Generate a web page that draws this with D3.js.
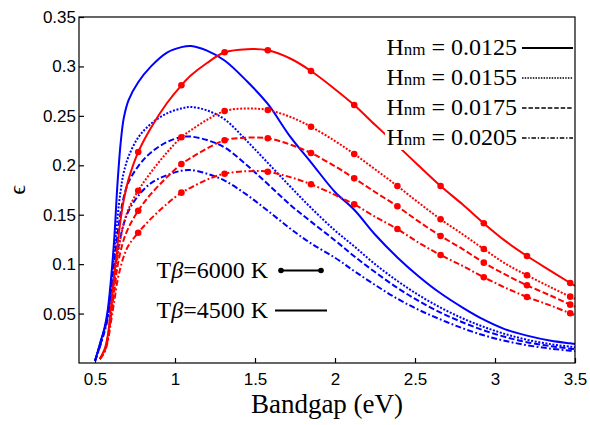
<!DOCTYPE html>
<html>
<head>
<meta charset="utf-8">
<script src="https://cdn.jsdelivr.net/npm/d3@7"></script>
<style>
	body { margin: 0; background: #fff; }
	svg text { fill: #000; }
	.tick_label { font-family: "Liberation Sans", Arial, sans-serif; font-size: 17px; }
	.serif { font-family: "Liberation Serif", "Times New Roman", serif; }
</style>
</head>
<body>
<div id="chart"></div>
<script>
// bandgap grid (eV), shared by all curves
const bandgap = [0.5, 0.53, 0.56, 0.58, 0.6, 0.62, 0.64, 0.66, 0.68, 0.71, 0.77, 0.85, 0.95, 1.04, 1.1, 1.2, 1.31, 1.45, 1.58, 1.72, 1.85, 2.0, 2.12, 2.25, 2.39, 2.52, 2.66, 2.8, 2.93, 3.06, 3.2, 3.35, 3.47, 3.5];

// T_beta = 4500 K (blue)
const eff_4500_h0125 = [0.002, 0.019, 0.036, 0.054, 0.085, 0.125, 0.18, 0.222, 0.248, 0.266, 0.284, 0.300, 0.314, 0.3195, 0.3207, 0.316, 0.306, 0.285, 0.262, 0.229, 0.203, 0.173, 0.155, 0.130, 0.1068, 0.0881, 0.0705, 0.0558, 0.0438, 0.0343, 0.0277, 0.0225, 0.0199, 0.0192];
const eff_4500_h0155 = [0.002, 0.018, 0.035, 0.05, 0.078, 0.11, 0.146, 0.174, 0.193, 0.209, 0.228, 0.242, 0.2525, 0.2575, 0.259, 0.2555, 0.2465, 0.2245, 0.2025, 0.1785, 0.157, 0.134, 0.118, 0.1, 0.083, 0.069, 0.056, 0.045, 0.0365, 0.0295, 0.0235, 0.019, 0.0165, 0.016];
const eff_4500_h0175 = [0.002, 0.017, 0.034, 0.048, 0.073, 0.1, 0.129, 0.152, 0.168, 0.183, 0.199, 0.213, 0.2235, 0.2285, 0.229, 0.2255, 0.218, 0.200, 0.181, 0.160, 0.143, 0.124, 0.108, 0.092, 0.076, 0.063, 0.051, 0.041, 0.033, 0.0265, 0.021, 0.017, 0.0145, 0.014];
const eff_4500_h0205 = [0.002, 0.016, 0.032, 0.045, 0.067, 0.089, 0.111, 0.128, 0.141, 0.154, 0.169, 0.182, 0.190, 0.1945, 0.1952, 0.1915, 0.1845, 0.170, 0.154, 0.136, 0.121, 0.1065, 0.093, 0.079, 0.065, 0.054, 0.044, 0.035, 0.028, 0.0225, 0.018, 0.0145, 0.0125, 0.012];

// T_beta = 6000 K (red, with markers)
const eff_6000_h0125 = [null, 0.004, 0.014, 0.028, 0.056, 0.088, 0.118, 0.145, 0.165, 0.186, 0.2134, 0.238, 0.263, 0.2809, 0.291, 0.3035, 0.3143, 0.3175, 0.3163, 0.308, 0.2954, 0.277, 0.261, 0.241, 0.220, 0.200, 0.179, 0.160, 0.1413, 0.124, 0.1082, 0.093, 0.0809, 0.078];
const eff_6000_h0155 = [null, 0.004, 0.013, 0.026, 0.052, 0.08, 0.106, 0.126, 0.141, 0.156, 0.1743, 0.193, 0.213, 0.2283, 0.2355, 0.246, 0.2549, 0.2575, 0.2559, 0.249, 0.239, 0.2245, 0.2114, 0.196, 0.179, 0.1625, 0.1454, 0.130, 0.1153, 0.101, 0.0887, 0.0765, 0.0671, 0.065];
const eff_6000_h0175 = [null, 0.004, 0.012, 0.024, 0.048, 0.072, 0.097, 0.113, 0.125, 0.137, 0.154, 0.171, 0.188, 0.2013, 0.2075, 0.217, 0.2253, 0.228, 0.2273, 0.221, 0.2124, 0.199, 0.1868, 0.173, 0.1585, 0.1435, 0.1285, 0.115, 0.1015, 0.0898, 0.0786, 0.068, 0.059, 0.057];
const eff_6000_h0205 = [null, 0.004, 0.011, 0.022, 0.042, 0.062, 0.083, 0.097, 0.108, 0.119, 0.1318, 0.146, 0.161, 0.1723, 0.1775, 0.1855, 0.1915, 0.194, 0.1935, 0.188, 0.1808, 0.170, 0.1605, 0.148, 0.1355, 0.122, 0.1092, 0.098, 0.0867, 0.0765, 0.0668, 0.058, 0.0503, 0.0485];

// bandgaps where the 6000 K curves carry a dot
const marker_gaps = [0.77, 1.04, 1.31, 1.58, 1.85, 2.12, 2.39, 2.66, 2.93, 3.2, 3.47];

const h_labels = ['0.0125', '0.0155', '0.0175', '0.0205'];
const x_ticks = [0.5, 1, 1.5, 2, 2.5, 3, 3.5];
const y_ticks = [0.05, 0.1, 0.15, 0.2, 0.25, 0.3, 0.35];

const dash_styles = [null, '2,1.6', '6,2.6', '6,2.4,1.8,2.4'];

let width = 590,
	height = 425,
	margin = {top: 17, right: 15, bottom: 62, left: 79};

const svg = d3.select('#chart').append('svg')
	.attr('width', width)
	.attr('height', height);

const x = d3.scaleLinear().domain([0.4, 3.5]).range([margin.left, width - margin.right]);
const y = d3.scaleLinear().domain([0, 0.35]).range([height - margin.bottom, margin.top]);

// curves
const series = [
	{vals: eff_4500_h0125, colour: '#0000ff', h: 0},
	{vals: eff_4500_h0155, colour: '#0000ff', h: 1},
	{vals: eff_4500_h0175, colour: '#0000ff', h: 2},
	{vals: eff_4500_h0205, colour: '#0000ff', h: 3},
	{vals: eff_6000_h0125, colour: '#ff0000', h: 0, dots: true},
	{vals: eff_6000_h0155, colour: '#ff0000', h: 1, dots: true},
	{vals: eff_6000_h0175, colour: '#ff0000', h: 2, dots: true},
	{vals: eff_6000_h0205, colour: '#ff0000', h: 3, dots: true}
];

const line = d3.line()
	.defined(d => d[1] !== null)
	.x(d => x(d[0]))
	.y(d => y(d[1]))
	.curve(d3.curveCatmullRom.alpha(0.5));

const plot = svg.append('g').attr('class', 'curves');

series.forEach(s => {
	let pts = bandgap.map((g, i) => [g, s.vals[i]]);
	plot.append('path')
		.attr('d', line(pts))
		.attr('fill', 'none')
		.attr('stroke', s.colour)
		.attr('stroke-width', 2)
		.attr('stroke-dasharray', dash_styles[s.h]);
	if (s.dots) {
		plot.selectAll(null)
			.data(pts.filter(p => marker_gaps.includes(p[0])))
			.enter().append('circle')
			.attr('cx', d => x(d[0]))
			.attr('cy', d => y(d[1]))
			.attr('r', 3.3)
			.attr('fill', s.colour);
	}
});

// frame + axes (ticks inside)
svg.append('rect')
	.attr('x', margin.left)
	.attr('y', margin.top)
	.attr('width', width - margin.left - margin.right)
	.attr('height', height - margin.top - margin.bottom)
	.attr('fill', 'none')
	.attr('stroke', '#000')
	.attr('stroke-width', 1.2);

const xAxis = svg.append('g')
	.attr('transform', 'translate(0,' + (height - margin.bottom) + ')')
	.call(d3.axisBottom(x).tickValues(x_ticks).tickSize(-5).tickPadding(10).tickFormat(d3.format('')));
const yAxis = svg.append('g')
	.attr('transform', 'translate(' + margin.left + ',0)')
	.call(d3.axisLeft(y).tickValues(y_ticks).tickSize(-5).tickPadding(3).tickFormat(d => d3.format('')(+d.toFixed(2))));

[xAxis, yAxis].forEach(a => {
	a.select('.domain').remove();
	a.selectAll('line').attr('stroke', '#000').attr('stroke-width', 1.2);
	a.selectAll('text').attr('class', 'tick_label').attr('fill', '#000').attr('font-family', null).attr('font-size', null);
});

// axis titles
svg.append('text')
	.attr('class', 'serif')
	.attr('x', 327)
	.attr('y', 413)
	.attr('text-anchor', 'middle')
	.attr('font-size', 27)
	.text('Bandgap (eV)');

svg.append('text')
	.attr('class', 'serif')
	.attr('transform', 'translate(25,190) rotate(-90)')
	.attr('text-anchor', 'middle')
	.attr('font-size', 24)
	.text('ϵ');

// H_nm legend (white boxes hide the curves behind)
const hleg = svg.append('g').attr('class', 'legend_h');
h_labels.forEach((lab, i) => {
	let base = 55 + i * 30;
	hleg.append('rect')
		.attr('x', 385).attr('y', base - 19)
		.attr('width', 188).attr('height', 24)
		.attr('fill', '#fff');
	let t = hleg.append('text')
		.attr('class', 'serif')
		.attr('x', 517).attr('y', base)
		.attr('text-anchor', 'end')
		.attr('font-size', 24);
	t.append('tspan').text('H');
	t.append('tspan').attr('font-size', 17).text('nm');
	t.append('tspan').text(' = ' + lab);
	hleg.append('line')
		.attr('x1', 522).attr('x2', 573)
		.attr('y1', base - 7).attr('y2', base - 7)
		.attr('stroke', '#000')
		.attr('stroke-width', i == 0 ? 2 : 1.5)
		.attr('stroke-dasharray', dash_styles[i] ? dash_styles[i].split(',').map(v => v * 0.75).join(',') : null);
});

// temperature legend
const tleg = svg.append('g').attr('class', 'legend_t');
[['6000', 278, true], ['4500', 318, false]].forEach(([temp, base, dots]) => {
	let t = tleg.append('text')
		.attr('class', 'serif')
		.attr('x', 268).attr('y', base)
		.attr('text-anchor', 'end')
		.attr('font-size', 24);
	t.append('tspan').text('T');
	t.append('tspan').attr('font-style', 'italic').text('β');
	t.append('tspan').text('=' + temp + ' K');
	let x1 = dots ? 281 : 275, x2 = dots ? 321 : 327;
	tleg.append('line')
		.attr('x1', x1).attr('x2', x2)
		.attr('y1', base - 7.5).attr('y2', base - 7.5)
		.attr('stroke', '#000').attr('stroke-width', 2);
	if (dots) {
		[x1, x2].forEach(cx => tleg.append('circle').attr('cx', cx).attr('cy', base - 7.5).attr('r', 2.8).attr('fill', '#000'));
	}
});
</script>
</body>
</html>
